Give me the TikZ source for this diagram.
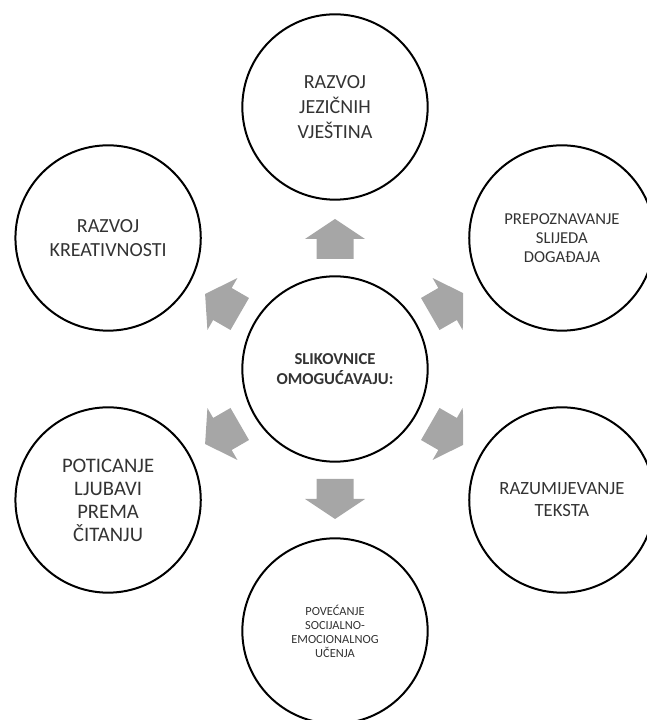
\documentclass[tikz,border=0pt]{standalone}
\usepackage{fontspec}
\setmainfont{Carlito}
\usepackage{tikz}
\usetikzlibrary{calc}

\begin{document}
\begin{tikzpicture}[x=0.75pt, y=0.75pt,
        bubble/.style={circle, draw=black, line width=1.5pt, minimum size=139pt, inner sep=0pt, align=center, text=black!80},
        blockarrow/.style={fill=black!35, draw=none}]
            \useasboundingbox (0, 0) rectangle (646, 720);
            \coordinate (C) at (335, 351);
            \node[bubble, font=\bfseries\fontsize{12.5}{15}\selectfont] (mid) at (C) {SLIKOVNICE\\OMOGUĆAVAJU:};
            % outer circles, counter-clockwise from the top
            \foreach \a/\s/\l/\t[count=\i from 1] in {
                90/15/18.5/{RAZVOJ\\JEZIČNIH\\VJEŠTINA},
                30/12.5/14.5/{PREPOZNAVANJE\\SLIJEDA\\DOGAĐAJA},
                -30/14/16.5/{RAZUMIJEVANJE\\TEKSTA},
                -90/9.3/10.5/{POVEĆANJE\\SOCIJALNO-\\EMOCIONALNOG\\UČENJA},
                -150/15.5/17.3/{POTICANJE\\LJUBAVI\\PREMA\\ČITANJU},
                150/15/18/{RAZVOJ\\KREATIVNOSTI}}
            {
                \node[bubble, font=\fontsize{\s}{\l}\selectfont] (out\i) at ($(mid) + (\a:262)$) {\t};
            }
            % arrows between the middle and the outer circles
            \begin{scope}
                \clip (205, 0) rectangle (463, 720);
                \foreach \a in {90, 30, -30, -90, -150, 150}
                {
                    \begin{scope}[shift={(mid)}, rotate=\a]
                        \fill[blockarrow] (110, -18.5) -- (130, -18.5) -- (130, -30) -- (150, 0)
                            -- (130, 30) -- (130, 18.5) -- (110, 18.5) -- cycle;
                    \end{scope}
                }
            \end{scope}
        \end{tikzpicture}
\end{document}
